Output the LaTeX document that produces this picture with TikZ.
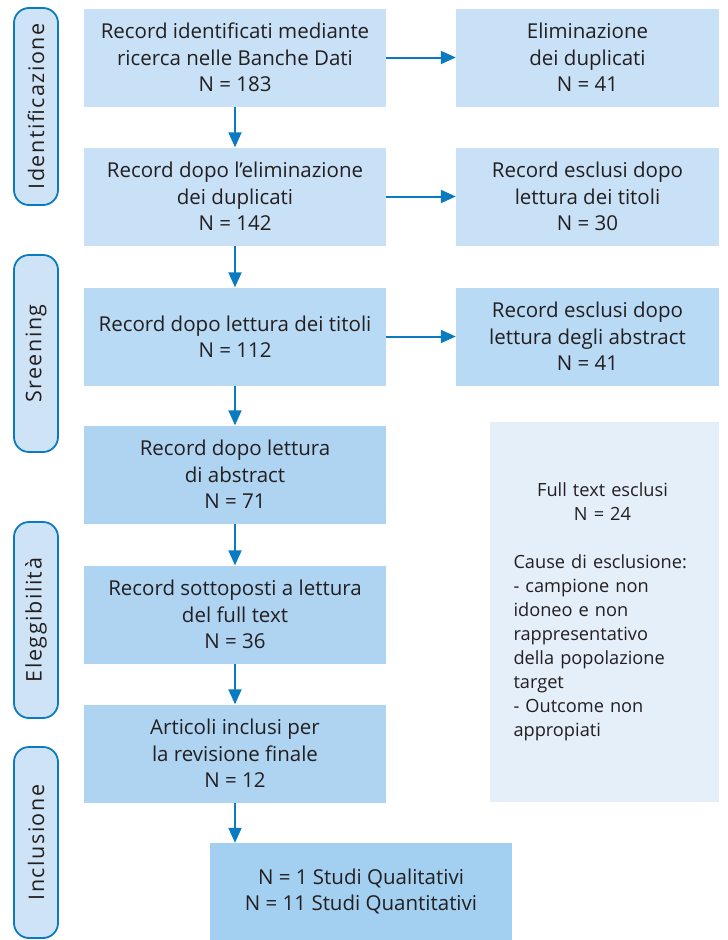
\documentclass[tikz,border=0pt]{standalone}
\usepackage{fontspec}
\setmainfont{Open Sans}
\newfontfamily\phasefont{Open Sans}[LetterSpace=7]
\usetikzlibrary{arrows.meta}

\definecolor{arrblue}{HTML}{0A7AC1}
\definecolor{boxA}{HTML}{C8E1F6}
\definecolor{boxB}{HTML}{B8DAF4}
\definecolor{boxC}{HTML}{AED4F2}
\definecolor{boxD}{HTML}{A3CFF0}
\definecolor{boxE}{HTML}{E4EFFA}
\definecolor{phasefill}{HTML}{CFE3F6}
\definecolor{txt}{HTML}{231F20}

\tikzset{
    box/.style={fill=#1, text=txt, align=center, minimum width=302pt, minimum height=98pt,
        inner sep=0pt, font=\fontsize{20.5}{26.5}\selectfont},
    box/.default=boxA,
    sidebox/.style={box=#1, minimum width=263pt},
    sidebox/.default=boxA,
    phase/.style={draw=arrblue, line width=1.8pt, fill=phasefill, rounded corners=15pt,
        minimum height=44pt, inner sep=0pt, rotate=90, text=txt,
        font=\phasefont\fontsize{21.5}{24}\selectfont},
    arr/.style={draw=arrblue, line width=2pt, -{Triangle[width=13pt,length=15pt]}}
}

\begin{document}
\begin{tikzpicture}[x=1pt,y=-1pt]
    \useasboundingbox[fill=white] (0,0) rectangle (728,940);

    % fasi
    \node[phase, minimum width=197pt] (fid) at (36,106.5) {Identificazione};
    \node[phase, minimum width=197pt] (fsc) at (36,353.5) {Sreening};
    \node[phase, minimum width=196pt] (fel) at (36,620) {Eleggibilità};
    \node[phase, minimum width=191pt] (fin) at (36,842.5) {Inclusione};

    % colonna principale
    \node[box] (b1) at (235,57.5) {Record identificati mediante\\ricerca nelle Banche Dati\\N = 183};
    \node[box] (b2) at (235,196.5) {Record dopo l'eliminazione\\dei duplicati\\N = 142};
    \node[box=boxB] (b3) at (235,336.5) {Record dopo lettura dei titoli\\N = 112};
    \node[box=boxC] (b4) at (235,474.5) {Record dopo lettura\\di abstract\\N = 71};
    \node[box=boxC] (b5) at (235,614.5) {Record sottoposti a lettura\\del full text\\N = 36};
    \node[box=boxC] (b6) at (235,753.5) {Articoli inclusi per\\la revisione finale\\N = 12};
    \node[box=boxD, minimum height=97pt] (b7) at (361,891.5) {N = 1 Studi Qualitativi\\N = 11 Studi Quantitativi};

    % esclusi
    \node[sidebox] (e1) at (587.5,57.5) {Eliminazione\\dei duplicati\\N = 41};
    \node[sidebox] (e2) at (587.5,196.5) {Record esclusi dopo\\lettura dei titoli\\N = 30};
    \node[sidebox=boxB] (e3) at (587.5,336.5) {Record esclusi dopo\\lettura degli abstract\\N = 41};
    \node[fill=boxE, text=txt, minimum width=229pt, minimum height=380pt, inner sep=0pt] (ft) at (604.5,612) {};
    \node[text=txt, align=left, text width=178pt, inner sep=0pt,
        font=\fontsize{18.2}{24}\selectfont] (ftx) at ([xshift=-2pt]ft.center) {%
        \makebox[178pt]{Full text esclusi}\\
        \makebox[178pt]{N = 24}\\[24pt]
        Cause di esclusione:\\
        - campione non\\
        idoneo e non\\
        rappresentativo\\
        della popolazione\\
        target\\
        - Outcome non\\
        appropiati};

    % frecce
    \draw[arr] (b1) -- (b2);
    \draw[arr] (b2) -- (b3);
    \draw[arr] (b3) -- (b4);
    \draw[arr] (b4) -- (b5);
    \draw[arr] (b5) -- (b6);
    \draw[arr] (b6.south) -- (b6.south |- b7.north);
    \draw[arr] (b1) -- (e1);
    \draw[arr] (b2) -- (e2);
    \draw[arr] (b3) -- (e3);
\end{tikzpicture}
\end{document}
